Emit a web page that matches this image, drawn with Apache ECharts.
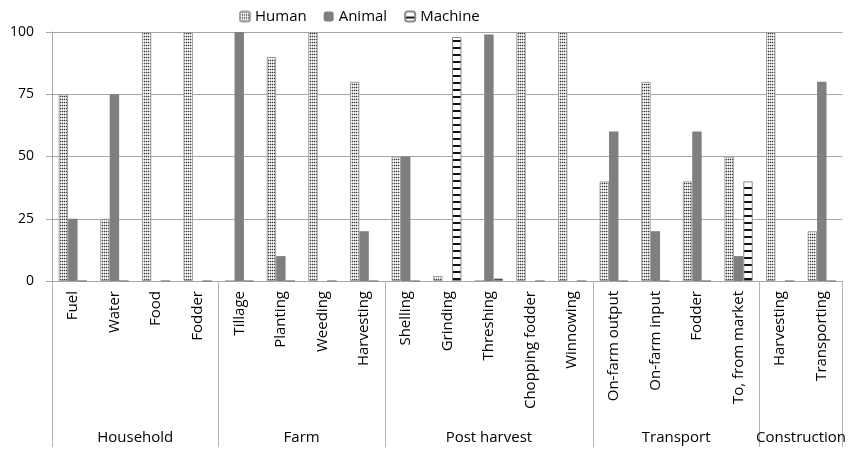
<!DOCTYPE html>
<html>
<head>
<meta charset="utf-8">
<script src="https://cdn.jsdelivr.net/npm/echarts@6/dist/echarts.min.js"></script>
<style>
html,body{margin:0;padding:0;background:#fff;}
#chart{width:849px;height:449px;}
</style>
</head>
<body>
<div id="chart"></div>
<script>
// ---- data ----
const categories = ['Fuel','Water','Food','Fodder','Tillage','Planting','Weeding','Harvesting','Shelling','Grinding','Threshing','Chopping fodder','Winnowing','On-farm output','On-farm input','Fodder','To, from market','Harvesting','Transporting'];
const groups = ['Household','Farm','Post harvest','Transport','Construction'];
const groupSizes = [4,4,5,4,2];
const human   = [75,25,100,100,0,90,100,80,50,2,0,100,100,40,80,40,50,100,20];
const animal  = [25,75,0,0,100,10,0,20,50,0,99,0,0,60,20,60,10,0,80];
const machine = [0,0,0,0,0,0,0,0,0,98,1,0,0,0,0,0,40,0,0];
const yTicks = [0,25,50,75,100];

// group boundaries / centres on a 0..N scale
const bounds = [0]; groupSizes.forEach(s => bounds.push(bounds[bounds.length-1] + s));
const centres = groups.map((g,i) => (bounds[i] + bounds[i+1]) / 2);

function humanPattern(){
  const c = document.createElement('canvas'); c.width = 2; c.height = 3;
  const x = c.getContext('2d');
  x.fillStyle = '#ffffff'; x.fillRect(0,0,2,3);
  x.fillStyle = '#b8b8b8'; x.fillRect(0,0,2,1);
  x.fillStyle = '#c8c8c8'; x.fillRect(0,0,1,3);
  x.fillStyle = '#3a3a3a'; x.fillRect(0,0,1,1);
  return {image: c, repeat: 'repeat'};
}
function machinePattern(){
  const c = document.createElement('canvas'); c.width = 4; c.height = 7;
  const x = c.getContext('2d');
  x.fillStyle = '#ffffff'; x.fillRect(0,0,4,7);
  x.fillStyle = '#111'; x.fillRect(0,5,4,2);
  return {image: c, repeat: 'repeat'};
}

const font = '"Open Sans", sans-serif';
const chart = echarts.init(document.getElementById('chart'), null, {renderer:'canvas'});
chart.setOption({
  animation: false,
  textStyle: {fontFamily: font},
  legend: {
    top: 4, left: 234, itemWidth: 10, itemHeight: 10, itemGap: 17,
    textStyle: {fontSize: 15, color: '#000', fontFamily: font},
    data: ['Human','Animal','Machine']
  },
  grid: {left: 52, right: 2, top: 32, bottom: 168, containLabel: false},
  xAxis: [
    {
      type: 'category', data: categories,
      axisLine: {lineStyle: {color: '#a6a6a6'}},
      axisTick: {length: 132, lineStyle: {color: '#b4b4b4'}},
      axisLabel: {rotate: 90, margin: 10, fontSize: 15, color: '#000', fontFamily: font, interval: 0}
    },
    {
      type: 'value', min: 0, max: categories.length, position: 'bottom',
      axisLine: {show: false}, splitLine: {show: false},
      axisTick: {show: true, length: 166, customValues: bounds, lineStyle: {color: '#b4b4b4'}},
      axisLabel: {
        customValues: centres, margin: 149, fontSize: 15, color: '#000', fontFamily: font,
        formatter: v => { const i = centres.findIndex(c => Math.abs(c - v) < 1e-6); return i >= 0 ? groups[i] : ''; }
      }
    }
  ],
  yAxis: {
    type: 'value', min: 0, max: 100, interval: 25,
    axisLine: {show: true, lineStyle: {color: '#a6a6a6'}},
    axisTick: {show: true, length: 6, lineStyle: {color: '#a6a6a6'}},
    splitLine: {lineStyle: {color: '#a6a6a6'}},
    axisLabel: {fontSize: 14, color: '#000', margin: 18, fontFamily: font,
      formatter: v => yTicks.includes(v) ? String(v) : ''}
  },
  series: [
    {name: 'Human', type: 'bar', data: human, barGap: '0%', barCategoryGap: '32%',
     itemStyle: {color: humanPattern(), borderColor: '#a0a0a0', borderWidth: 1}},
    {name: 'Animal', type: 'bar', data: animal,
     itemStyle: {color: '#7f7f7f'}},
    {name: 'Machine', type: 'bar', data: machine,
     itemStyle: {color: machinePattern(), borderColor: '#8a8a8a', borderWidth: 1}}
  ]
});
</script>
</body>
</html>
